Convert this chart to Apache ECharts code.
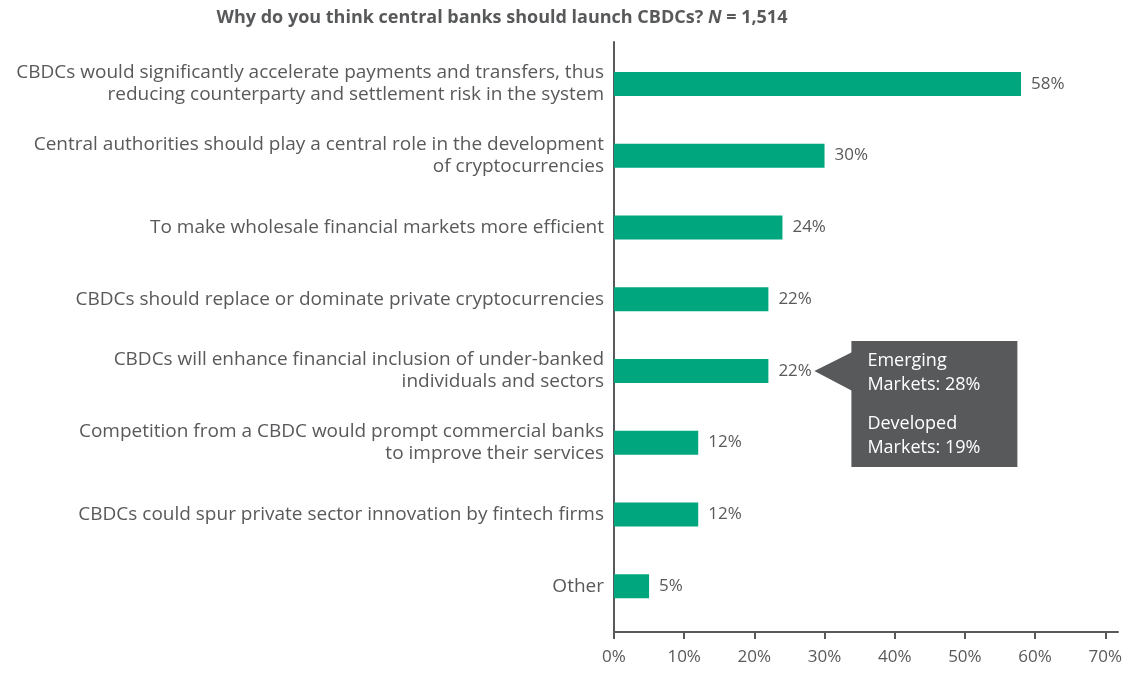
<!DOCTYPE html>
<html>
<head>
<meta charset="utf-8">
<script src="https://cdn.jsdelivr.net/npm/echarts@6/dist/echarts.min.js"></script>
<style>
  html, body { margin: 0; padding: 0; background: #fff; }
  #chart { width: 1125px; height: 673px; }
</style>
</head>
<body>
<div id="chart"></div>
<script>
// Survey responses: reasons for launching a CBDC (share of respondents, %)
const categories = [
  'CBDCs would significantly accelerate payments and transfers, thus\nreducing counterparty and settlement risk in the system',
  'Central authorities should play a central role in the development\nof cryptocurrencies',
  'To make wholesale financial markets more efficient',
  'CBDCs should replace or dominate private cryptocurrencies',
  'CBDCs will enhance financial inclusion of under-banked\nindividuals and sectors',
  'Competition from a CBDC would prompt commercial banks\nto improve their services',
  'CBDCs could spur private sector innovation by fintech firms',
  'Other'
];
const values = [58, 30, 24, 22, 22, 12, 12, 5];

// Breakdown shown in the callout for the financial-inclusion answer
const calloutIndex = 4;
const emergingMarkets = 28;
const developedMarkets = 19;

const TEXT = '#58595B';
const BAR = '#00A67E';
const FONT = '"Open Sans", Roboto, sans-serif';

const chart = echarts.init(document.getElementById('chart'), null, { renderer: 'canvas' });

chart.setOption({
  backgroundColor: '#ffffff',
  animation: false,
  textStyle: { fontFamily: FONT },
  title: {
    left: 497,
    top: 4,
    textAlign: 'center',
    text: '{a|Why do you think central banks should launch CBDCs? }{i|N}{a| = 1,514}',
    textStyle: {
      rich: {
        a: { fontSize: 18, fontWeight: 'bold', color: TEXT, fontFamily: FONT },
        i: { fontSize: 18, fontWeight: 'bold', fontStyle: 'italic', color: TEXT, fontFamily: FONT }
      }
    }
  },
  grid: [
    // plotting area for the bars
    { left: 614, right: 18, top: 48, bottom: 51, containLabel: false },
    // frame carrying the axis lines
    { left: 614, right: 7, top: 42, bottom: 41, containLabel: false }
  ],
  xAxis: [
    {
      gridIndex: 0,
      type: 'value',
      min: 0,
      max: 70,
      interval: 10,
      offset: 10,
      axisLine: { show: false },
      axisTick: { show: true, length: 7, lineStyle: { color: TEXT, width: 2 } },
      splitLine: { show: false },
      axisLabel: {
        formatter: '{value}%',
        fontSize: 17,
        color: TEXT,
        margin: 17,
        fontFamily: FONT
      }
    },
    {
      gridIndex: 1,
      type: 'value',
      min: 0,
      max: 1,
      axisLine: { show: true, onZero: false, lineStyle: { color: TEXT, width: 2 } },
      axisTick: { show: false },
      axisLabel: { show: false },
      splitLine: { show: false }
    }
  ],
  yAxis: [
    {
      gridIndex: 0,
      type: 'category',
      data: categories,
      inverse: true,
      axisLine: { show: false },
      axisTick: { show: false },
      axisLabel: {
        fontSize: 19,
        lineHeight: 22,
        color: TEXT,
        margin: 10,
        align: 'right',
        fontFamily: FONT,
        padding: [4, 0, 0, 0]
      }
    },
    {
      gridIndex: 1,
      type: 'value',
      min: 0,
      max: 1,
      axisLine: { show: true, onZero: false, lineStyle: { color: TEXT, width: 2 } },
      axisTick: { show: false },
      axisLabel: { show: false },
      splitLine: { show: false }
    }
  ],
  series: [
    {
      type: 'bar',
      xAxisIndex: 0,
      yAxisIndex: 0,
      data: values,
      barWidth: 24,
      itemStyle: { color: BAR },
      label: {
        show: true,
        position: 'right',
        distance: 10,
        formatter: '{c}%',
        fontSize: 17,
        color: TEXT,
        fontFamily: FONT,
        padding: [6, 0, 0, 0]
      }
    }
  ]
});

// Callout box with the market breakdown, anchored to its bar
const anchor = chart.convertToPixel({ xAxisIndex: 0, yAxisIndex: 0 }, [values[calloutIndex], calloutIndex]);
const tipX = anchor[0] + 46;
const cy = anchor[1];
const boxX = tipX + 37;
const BOX = '#58595B';

chart.setOption({
  graphic: [
    {
      type: 'polygon',
      shape: { points: [[tipX, cy], [boxX + 1, cy - 19], [boxX + 1, cy + 20]] },
      style: { fill: BOX }
    },
    {
      type: 'rect',
      shape: { x: boxX, y: cy - 30, width: 166, height: 126 },
      style: { fill: BOX }
    },
    {
      type: 'text',
      x: boxX + 16,
      y: cy - 22,
      style: {
        text: 'Emerging\nMarkets: ' + emergingMarkets + '%',
        fill: '#ffffff',
        fontSize: 18,
        lineHeight: 24,
        fontFamily: FONT
      }
    },
    {
      type: 'text',
      x: boxX + 16,
      y: cy + 41,
      style: {
        text: 'Developed\nMarkets: ' + developedMarkets + '%',
        fill: '#ffffff',
        fontSize: 18,
        lineHeight: 24,
        fontFamily: FONT
      }
    }
  ]
});
</script>
</body>
</html>
